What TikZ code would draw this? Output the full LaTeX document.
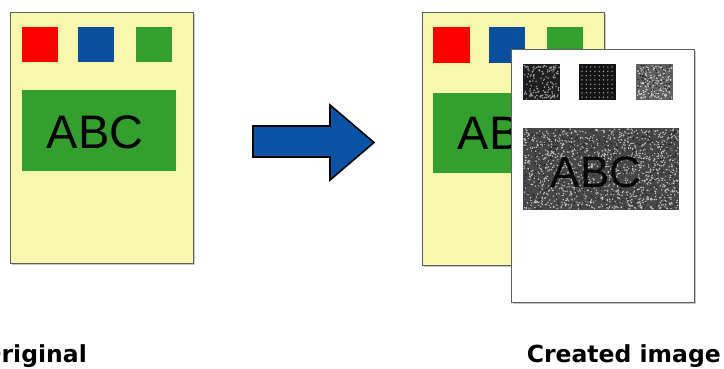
\documentclass[tikz,border=0pt]{standalone}
\usepackage{fontspec}
\setmainfont{Liberation Sans}
\newfontfamily\captionfont{DejaVu Sans}
\usepackage{xcolor}

\definecolor{pageyellow}{HTML}{F7F7AE}
\definecolor{swred}{HTML}{FF0000}
\definecolor{swblue}{HTML}{0A4F9E}
\definecolor{swgreen}{HTML}{33A02E}
\definecolor{arrowblue}{HTML}{0B53A6}

% speckle noise over a box: x1,y1,x2,y2,count,colour
\newcommand{\speckle}[6]{%
  \foreach \k in {1,...,#5}{%
    \pgfmathsetmacro\sx{#1+rnd*(#3-#1)}%
    \pgfmathsetmacro\sy{#2+rnd*(#4-#2)}%
    \fill[#6] (\sx,\sy) circle (0.8);
  }%
}

\tikzset{
  page/.style={draw=gray!75!black, line width=0.9pt},
  pageshadow/.style={fill=gray!45},
  bigtext/.style={inner sep=0pt, font=\fontsize{47}{47}\selectfont},
  caption/.style={inner sep=0pt, font=\captionfont\bfseries\fontsize{23.5}{23.5}\selectfont}
}

\begin{document}
\begin{tikzpicture}[x=1pt,y=-1pt]
	\pgfmathsetseed{17}
	\useasboundingbox (0,0) rectangle (724,368);
	% original page
	\fill[pageshadow] (12,14) rectangle (195,265);
	\draw[page, fill=pageyellow] (10,12) rectangle (193,263);
	\fill[swred] (22,27) rectangle (58,62);
	\fill[swblue] (78,27) rectangle (114,62);
	\fill[swgreen] (136,27) rectangle (172,62);
	\fill[swgreen] (22,90) rectangle (176,171);
	\node[bigtext] (abcorig) at (95,132.5) {ABC};
	% arrow
	\draw[fill=arrowblue, line width=1.6pt, line join=miter]
		(253,126) -- (330,126) -- (330,105) -- (374,142.5) -- (330,180)
		-- (330,157) -- (253,157) -- cycle;
	% copy of the original, behind
	\fill[pageshadow] (424,14) rectangle (606,267);
	\draw[page, fill=pageyellow] (422,12) rectangle (604,265);
	\fill[swred] (433,27) rectangle (470,63);
	\fill[swblue] (489,27) rectangle (525,63);
	\fill[swgreen] (547,27) rectangle (583,63);
	\fill[swgreen] (433,93) rectangle (600,173);
	\node[bigtext] (abcback) at (506,133.5) {ABC};
	% created image
	\fill[pageshadow] (513,51) rectangle (696,304);
	\draw[page, fill=white] (511,49) rectangle (694,302);
	\fill[black!88] (523,64) rectangle (560,100);
	\speckle{524}{65}{559}{99}{150}{gray!70}
	\fill[black!92] (579,64) rectangle (616,100);
	\foreach \gx in {0,...,7}
		\foreach \gy in {0,...,7}
			\fill[gray!60] (582+4.3*\gx,67+4.3*\gy) circle (0.7);
	\fill[black!62] (636,64) rectangle (673,100);
	\speckle{637}{65}{672}{99}{160}{gray!35}
	\speckle{637}{65}{672}{99}{80}{black!85}
	\fill[black!72] (523,128) rectangle (679,210);
	\speckle{524}{129}{678}{209}{1300}{gray!45}
	\speckle{524}{129}{678}{209}{700}{black!85}
	\node[bigtext, font=\fontsize{44}{44}\selectfont, text=black, text opacity=0.9] (abccreated) at (596,172.5) {ABC};
	% captions
	\node[caption, anchor=base east] (origlabel) at (87,362) {Original};
	\node[caption, anchor=base east] (createdlabel) at (721,362) {Created image};
\end{tikzpicture}
\end{document}
